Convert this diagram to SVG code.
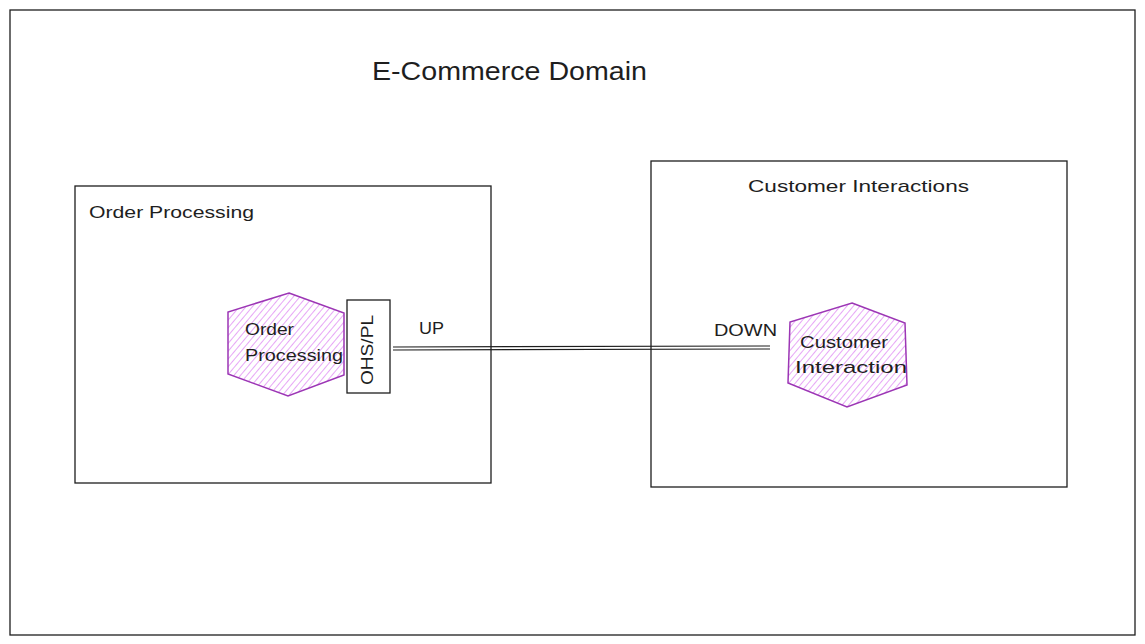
<svg xmlns="http://www.w3.org/2000/svg" width="1145" height="644" viewBox="0 0 1145 644">
<style>
.box{fill:none;stroke:#1e1e1e;stroke-width:1.3}
.hex{fill:url(#hatch);stroke:#9c36b5;stroke-width:1.5}
.t{font-family:"Liberation Sans",Arial,sans-serif;fill:#1e1e1e}
.conn{fill:none;stroke:#1e1e1e;stroke-width:1.2}
</style>
<defs>
<pattern id="hatch" patternUnits="userSpaceOnUse" width="5" height="5" patternTransform="rotate(40)">
<rect width="5" height="5" fill="#fff"/>
<line x1="0" y1="0" x2="0" y2="5" stroke="#da77f2" stroke-width="1.3"/>
</pattern>
</defs>
<rect width="1145" height="644" fill="#fff"/>
<g id="domain">
<rect class="box" x="10" y="10" width="1125" height="625"/>
<text class="t" x="372" y="80" font-size="25" textLength="275" lengthAdjust="spacingAndGlyphs">E-Commerce Domain</text>
</g>
<g id="order-context">
<rect class="box" x="75" y="186" width="416" height="297"/>
<text class="t" x="89" y="218" font-size="17" textLength="165" lengthAdjust="spacingAndGlyphs">Order Processing</text>
</g>
<g id="customer-context">
<rect class="box" x="651" y="161" width="416" height="326"/>
<text class="t" x="748" y="192" font-size="17" textLength="221" lengthAdjust="spacingAndGlyphs">Customer Interactions</text>
</g>
<g id="order-processing">
<polygon class="hex" points="289,293 344,313 344,375 288,396 228,374 228,312"/>
<text class="t" x="245" y="335" font-size="17" textLength="49" lengthAdjust="spacingAndGlyphs">Order</text>
<text class="t" x="245" y="361" font-size="17" textLength="98" lengthAdjust="spacingAndGlyphs">Processing</text>
</g>
<g id="ohs-pl">
<rect class="box" x="347" y="300" width="43" height="93" fill="#fff"/>
<text class="t" x="0" y="0" font-size="17" text-anchor="middle" textLength="70" lengthAdjust="spacingAndGlyphs" transform="translate(373,350) rotate(-90)">OHS/PL</text>
</g>
<g id="customer-interaction">
<polygon class="hex" points="852,303 905,323 907,385 847,407 788,383 790,322"/>
<text class="t" x="800" y="348" font-size="17" textLength="88" lengthAdjust="spacingAndGlyphs">Customer</text>
<text class="t" x="795" y="373" font-size="17" textLength="112" lengthAdjust="spacingAndGlyphs">Interaction</text>
</g>
<g id="connectors">
<path class="conn" d="M393,347 L770,346 M393,350 L770,349"/>
<text class="t" x="419" y="334" font-size="16" textLength="25" lengthAdjust="spacingAndGlyphs">UP</text>
<text class="t" x="714" y="336" font-size="16" textLength="63" lengthAdjust="spacingAndGlyphs">DOWN</text>
</g>
</svg>
